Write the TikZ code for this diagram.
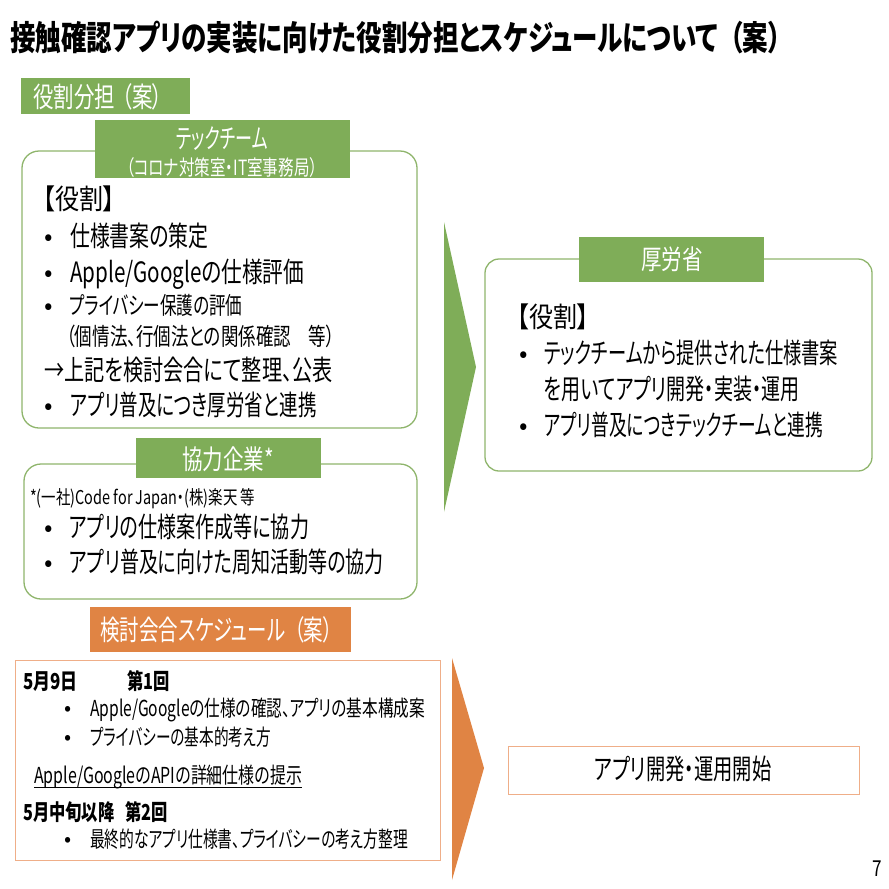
\documentclass[tikz,border=0pt]{standalone}
\usepackage{fontspec}
\setmainfont{Noto Sans CJK JP}[RawFeature=+palt]
\definecolor{headgreen}{HTML}{7FAD58}
\definecolor{headorange}{HTML}{E08444}
\definecolor{linegreen}{HTML}{8FB56C}
\definecolor{lineorange}{HTML}{EFAE88}
\newcommand{\sz}[2]{\fontsize{#1}{#1}\selectfont\addfontfeature{FakeStretch=#2}}
\newcommand{\szb}[2]{\fontsize{#1}{#1}\bfseries\addfontfeature{FakeStretch=#2}}
\tikzset{
  txt/.style={inner sep=0pt,anchor=base west,text=black},
  bodyline/.style={txt,yshift=-10.6pt,font=\sz{28}{#1}},
  bodyline/.default=.72,
  midline/.style={txt,yshift=-9.1pt,font=\sz{24}{#1}},
  smallline/.style={txt,yshift=-8.4pt,font=\sz{22}{#1}},
  smallline/.default=.71,
  boldline/.style={txt,yshift=-8.4pt,font=\szb{22}{#1}},
  boldline/.default=.74,
  headtext/.style={inner sep=0pt,anchor=base,text=white,yshift=-10.3pt,font=\sz{27}{#1}},
  dotline/.style={txt,yshift=-9.6pt,font=\sz{25}{1}},
  dotsmall/.style={txt,yshift=-7.6pt,font=\sz{21}{1}},
  headbox/.style={draw=none,fill=headgreen},
  panel/.style={draw=linegreen,line width=1.3pt,rounded corners=17pt,fill=white},
  outbox/.style={draw=lineorange,line width=1pt},
}
\begin{document}
\begin{tikzpicture}[x=1pt,y=-1pt]
  \useasboundingbox (0,0) rectangle (889,889);
  \node[txt,yshift=-12.9pt,font=\szb{34}{.75}] (title) at (10,38) {接触確認アプリの実装に向けた役割分担とスケジュールについて\hspace{12pt}（案）};

  % left side
  \path[headbox] (21,78) rectangle (190,114);
  \node[bodyline=.73,text=white] (rolehead) at (33,97) {役割分担\hspace{7pt}（案）};

  \path[panel] (22,151) rectangle (417,428);
  \path[headbox] (95,120) rectangle (350,178);
  \node[headtext=.63] (techname) at (222,138) {テックチーム};
  \node[inner sep=0pt,anchor=base,text=white,yshift=-8pt,font=\sz{21}{.74}] (techsub) at (222,167) {（コロナ対策室・IT室事務局）};
  \node[bodyline=.86] (techrole) at (43,199) {【役割】};
  \foreach \by/\bn in {236/a,272/b,305/c,405/d}
    \node[dotline] (techdot\bn) at (44,\by) {•};
  \node[bodyline=.71] (techspec) at (70,236) {仕様書案の策定};
  \node[bodyline=.737] (techeval) at (70,272) {Apple/Googleの仕様評価};
  \node[midline=.69] (techpriv) at (69,305) {プライバシー保護の評価};
  \node[midline=.73] (techlaw) at (66,336) {（個情法、行個法との関係確認　等）};
  \node[bodyline=.72] (techpub) at (44,370) {→上記を検討会合にて整理、公表};
  \node[bodyline=.66] (techlink) at (70,405) {アプリ普及につき厚労省と連携};

  \path[panel] (24,464) rectangle (417,599);
  \path[headbox] (136,438) rectangle (321,478);
  \node[headtext=.76] (partnerhead) at (228,459) {協力企業*};
  \node[txt,yshift=-7.2pt,font=\sz{19}{.76}] (partnernote) at (30,497) {*(一社)Code for Japan・(株)楽天 等};
  \foreach \by/\bn in {527/a,562/b}
    \node[dotline] (partnerdot\bn) at (44,\by) {•};
  \node[bodyline=.68] (partnerspec) at (69,527) {アプリの仕様案作成等に協力};
  \node[bodyline=.68] (partnerpr) at (69,562) {アプリ普及に向けた周知活動等の協力};

  % schedule
  \path[fill=headorange] (90,607) rectangle (351,652);
  \node[bodyline=.695,text=white] (schedhead) at (100,630) {検討会合スケジュール\hspace{9pt}（案）};
  \path[outbox] (15,660) rectangle (440,860);
  \node[boldline=.77] (firstdate) at (23,681) {5月9日};
  \node[boldline] (firstno) at (127,681) {第1回};
  \foreach \by/\bn in {708/a,737/b,839/c}
    \node[dotsmall] (scheddot\bn) at (64,\by) {•};
  \node[smallline] (firsta) at (90,708) {Apple/Googleの仕様の確認、アプリの基本構成案};
  \node[smallline=.665] (firstb) at (90,737) {プライバシーの基本的考え方};
  \node[smallline=.725] (apinote) at (34,775) {Apple/GoogleのAPIの詳細仕様の提示};
  \draw[black,line width=.8pt] ([yshift=-4pt]apinote.base west) -- ([yshift=-4pt]apinote.base east);
  \node[boldline] (seconddate) at (23,812) {5月中旬以降};
  \node[boldline] (secondno) at (125,812) {第2回};
  \node[smallline=.671] (seconda) at (90,839) {最終的なアプリ仕様書、プライバシーの考え方整理};

  % arrows
  \fill[headgreen] (444,222) -- (476,367) -- (444,512) -- cycle;
  \fill[headorange] (452,658) -- (484,768) -- (452,880) -- cycle;

  % right side
  \path[panel,rounded corners=14pt] (485,259) rectangle (872,471);
  \path[headbox] (579,237) rectangle (764,282);
  \node[headtext=.76] (mhlwhead) at (672,259) {厚労省};
  \node[bodyline=.86] (mhlwrole) at (517,317) {【役割】};
  \foreach \by/\bn in {353/a,425/b}
    \node[dotline] (mhlwdot\bn) at (519,\by) {•};
  \node[bodyline=.653] (mhlwa) at (544,353) {テックチームから提供された仕様書案};
  \node[bodyline=.68] (mhlwb) at (544,389) {を用いてアプリ開発・実装・運用};
  \node[bodyline=.633] (mhlwc) at (544,425) {アプリ普及につきテックチームと連携};
  \path[outbox] (508,746) rectangle (859,794);
  \node[inner sep=0pt,anchor=base,yshift=-10.6pt,font=\sz{28}{.69}] (launch) at (683,769) {アプリ開発・運用開始};
  \node[txt,yshift=-8.4pt,font=\sz{22}{.78}] (pageno) at (872,868) {7};
\end{tikzpicture}
\end{document}
